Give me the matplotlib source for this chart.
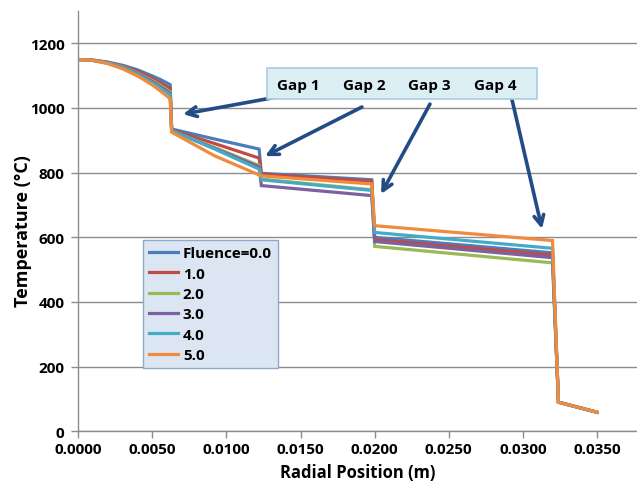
import matplotlib
matplotlib.use("Agg")
import matplotlib.pyplot as plt
from matplotlib.patches import Rectangle

plt.rcParams['font.family'] = ['Open Sans', 'DejaVu Sans']
plt.rcParams['font.weight'] = 'bold'

# Radial positions (m)
radius = [0, 0.001, 0.002, 0.003, 0.004, 0.005, 0.0055, 0.006, 0.0062,
          0.0063, 0.0092, 0.0122, 0.01235, 0.0198, 0.0200, 0.0320, 0.0324, 0.0350]

labels = ["Fluence=0.0", "1.0", "2.0", "3.0", "4.0", "5.0"]

temp_f0 = [1150, 1148, 1142, 1132, 1118, 1099, 1089, 1077, 1072,
           935, 904, 873, 798, 778, 600, 552, 90, 59]
temp_f1 = [1150, 1148, 1141, 1129, 1113, 1092, 1079, 1066, 1060,
           932, 890, 845, 795, 774, 593, 545, 90, 59]
temp_f2 = [1150, 1147, 1140, 1127, 1108, 1085, 1071, 1056, 1050,
           929, 878, 822, 780, 747, 572, 521, 90, 59]
temp_f3 = [1150, 1147, 1139, 1125, 1106, 1082, 1067, 1052, 1045,
           929, 875, 818, 760, 729, 587, 537, 90, 59]
temp_f4 = [1150, 1147, 1139, 1124, 1104, 1078, 1063, 1047, 1040,
           930, 873, 811, 778, 745, 615, 566, 90, 59]
temp_f5 = [1150, 1147, 1137, 1121, 1099, 1071, 1054, 1036, 1028,
           925, 852, 793, 790, 765, 636, 590, 90, 59]

series = [temp_f0, temp_f1, temp_f2, temp_f3, temp_f4, temp_f5]
colors = ['#4A7EBB', '#BE4B48', '#98B954', '#7D60A0', '#46AAC5', '#F08A3C']

gap_labels = ["Gap 1", "Gap 2", "Gap 3", "Gap 4"]
gap_label_x = [0.01482, 0.01928, 0.02366, 0.02811]
arrow_start = [(0.01341, 1034), (0.01914, 1003), (0.02373, 1012), (0.02927, 1025)]
arrow_end = [(0.00707, 981), (0.0126, 851), (0.02043, 734), (0.03129, 626)]

x_ticks = [0, 0.005, 0.010, 0.015, 0.020, 0.025, 0.030, 0.035]
y_ticks = [0, 200, 400, 600, 800, 1000, 1200]

fig = plt.figure(figsize=(6.37, 4.85), dpi=100)
ax = fig.add_axes([78.3 / 637, 1 - 432.3 / 485, 1 - 78.3 / 637, (432.3 - 12) / 485])

for y, c, lab in zip(series, colors, labels):
    ax.plot(radius, y, color=c, lw=2.3, label=lab, solid_joinstyle='miter')

ax.set_xlim(0, 0.0377)
ax.set_ylim(0, 1300)
ax.set_xticks(x_ticks)
ax.set_xticklabels([f"{v:.4f}" for v in x_ticks])
ax.set_yticks(y_ticks)
ax.grid(axis='y', color='#8C8C8C', lw=1)
ax.set_axisbelow(True)
for s in ['top', 'right']:
    ax.spines[s].set_visible(False)
for s in ['left', 'bottom']:
    ax.spines[s].set_color('#8C8C8C')
    ax.spines[s].set_linewidth(1)
ax.tick_params(axis='both', colors='#8C8C8C', labelcolor='black', length=5,
               width=1, labelsize=11)
ax.tick_params(axis='x', pad=3)
ax.tick_params(axis='y', pad=5)
for t in ax.get_xticklabels() + ax.get_yticklabels():
    t.set_fontweight('bold')

ax.set_xlabel("Radial Position (m)", fontsize=12, fontweight='bold', labelpad=5)
ax.set_ylabel("Temperature (°C)", fontsize=13, fontweight='bold')
ax.yaxis.set_label_coords(-0.083, 0.479)

# arrows
for (x0, y0), (x1, y1) in zip(arrow_start, arrow_end):
    ax.annotate("", xy=(x1, y1), xytext=(x0, y0),
                arrowprops=dict(arrowstyle="->,head_length=0.7,head_width=0.35",
                                color='#224C84', lw=2.6, shrinkA=0, shrinkB=0),
                zorder=5)

# gap label box
box = Rectangle((0.01274, 1028), 0.03095 - 0.01274, 1124 - 1028,
                facecolor='#DAEEF3', edgecolor='#A9CDE3', lw=1.2, zorder=6)
ax.add_patch(box)
for gx, gl in zip(gap_label_x, gap_labels):
    ax.text(gx, 1071, gl, ha='center', va='center', fontsize=11,
            fontweight='bold', zorder=7)

leg = ax.legend(loc='upper left', bbox_to_anchor=(0.116, 0.455), fontsize=11,
                frameon=True, fancybox=False, handlelength=1.9, handletextpad=0.3,
                labelspacing=0.42, borderpad=0.4, borderaxespad=0)
leg.get_frame().set_facecolor('#DCE6F2')
leg.get_frame().set_edgecolor('#8EA9CF')
leg.get_frame().set_alpha(1)
leg.get_frame().set_linewidth(1)
for t in leg.get_texts():
    t.set_fontweight('bold')

fig.savefig("out.png", dpi=100)
